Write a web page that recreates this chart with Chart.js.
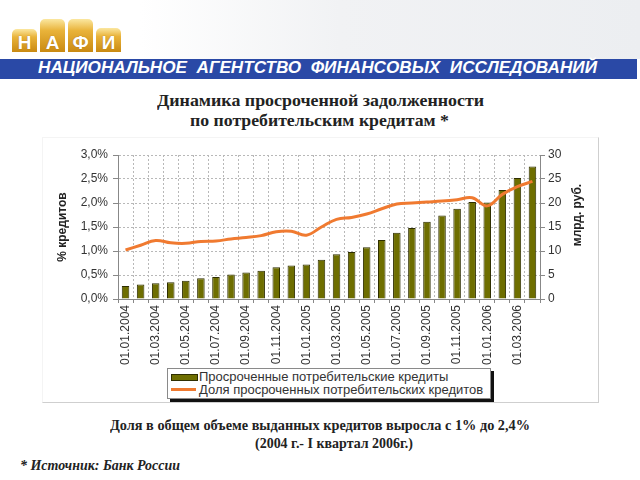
<!DOCTYPE html>
<html>
<head>
<meta charset="utf-8">
<script src="https://cdn.jsdelivr.net/npm/chart.js@4"></script>
<style>
  body { margin: 0; width: 640px; height: 480px; overflow: hidden; background: #fff; position: relative; font-family: "Liberation Sans", Arial, sans-serif; }
  .abs { position: absolute; }
  #texture { left: 140px; top: 0; width: 500px; height: 59px; background: linear-gradient(90deg, #ffffff 0%, #f1f2f4 40%, #eceef1 100%); }
  .logo { width: 25px; background: linear-gradient(180deg, #fbe7a0 0%, #e9b33a 35%, #c98a12 100%); border-radius: 5px 5px 0 0; color: #fff; font-family: "Liberation Sans", Arial; font-weight: bold; font-size: 19px; text-align: center; line-height: 16px; box-sizing: border-box; text-shadow: 0 0 1px #a06a00; }
  #banner { left: 0; top: 59px; width: 637px; height: 20px; background: #2a49a6; }
  .fit { white-space: nowrap; transform-origin: 0 50%; }
  #bannerText { left: 38px; top: 59px; height: 20px; line-height: 20px; color: #fff; font: italic bold 16px "Liberation Sans", Arial; }
  .serif { font-family: "Liberation Serif", "Times New Roman", serif; font-weight: bold; color: #222; }
  #frame { left: 42px; top: 137px; width: 555px; height: 264px; border: 1px solid #cfcfcf; border-top-color: #f4f4f4; border-left-color: #f4f4f4; }
  #wrap { left: 42px; top: 137px; width: 556px; height: 228px; }
  #legend { left: 167px; top: 368px; width: 322px; height: 29px; border: 1px solid #8a8a8a; background: #fff; box-shadow: 3px 3px 0 #111; font: 13px "Liberation Sans", Arial; color: #333; }
  .sw { position: absolute; left: 3px; width: 25px; }
  .lt { position: absolute; left: 31px; white-space: nowrap; line-height: 14px; }
</style>
</head>
<body>
<div id="texture" class="abs"></div>
<div class="abs logo" style="left:12px;top:29px;height:23px;padding-top:6px">Н</div>
<div class="abs logo" style="left:40px;top:19px;height:33px;padding-top:16px">А</div>
<div class="abs logo" style="left:68px;top:19px;height:33px;padding-top:16px">Ф</div>
<div class="abs logo" style="left:96px;top:28px;height:24px;padding-top:7px">И</div>
<div id="banner" class="abs"></div>
<div id="bannerText" class="abs fit" data-w="559">НАЦИОНАЛЬНОЕ&nbsp; АГЕНТСТВО&nbsp; ФИНАНСОВЫХ&nbsp; ИССЛЕДОВАНИЙ</div>

<div class="abs fit serif" data-w="327" style="left:157px;top:91px;font-size:17px;line-height:20px">Динамика просроченной задолженности</div>
<div class="abs fit serif" data-w="259" style="left:190px;top:111px;font-size:17px;line-height:20px">по потребительским кредитам *</div>

<div id="frame" class="abs"></div>
<div id="wrap" class="abs"><canvas id="chart"></canvas></div>

<div id="legend" class="abs">
  <div class="sw" style="top:5px;height:5px;background:#6e6e00;border:1px solid #2e2e00"></div>
  <div class="lt" style="top:1px">Просроченные потребительские кредиты</div>
  <div class="sw" style="top:19px;height:3px;background:#f07a30"></div>
  <div class="lt" style="top:14px">Доля просроченных потребительских кредитов</div>
</div>

<div class="abs fit serif" data-w="420" style="left:110px;top:417px;font-size:14px;line-height:18px">Доля в общем объеме выданных кредитов выросла с 1% до 2,4%</div>
<div class="abs fit serif" data-w="158" style="left:255px;top:435px;font-size:14px;line-height:18px">(2004 г.- I квартал 2006г.)</div>
<div class="abs fit serif" data-w="160" style="left:20px;top:457px;font-size:14px;line-height:18px;font-style:italic">* Источник: Банк России</div>

<script>
// stretch fixed text to the widths
document.querySelectorAll(".fit").forEach((el) => {
  const w = el.getBoundingClientRect().width;
  el.style.transform = "scaleX(" + (Number(el.dataset.w) / w) + ")";
});

// Monthly dates, Jan 2004 - Apr 2006
const months = [
  "01.01.2004", "01.02.2004", "01.03.2004", "01.04.2004", "01.05.2004", "01.06.2004",
  "01.07.2004", "01.08.2004", "01.09.2004", "01.10.2004", "01.11.2004", "01.12.2004",
  "01.01.2005", "01.02.2005", "01.03.2005", "01.04.2005", "01.05.2005", "01.06.2005",
  "01.07.2005", "01.08.2005", "01.09.2005", "01.10.2005", "01.11.2005", "01.12.2005",
  "01.01.2006", "01.02.2006", "01.03.2006", "01.04.2006",
];

// overdue consumer loans, bn rub (right axis)
const overdue = [
  2.7, 3.0, 3.3, 3.5, 3.8, 4.3, 4.6, 5.1, 5.5, 5.9, 6.6, 7.0,
  7.2, 8.2, 9.3, 9.8, 10.8, 12.3, 13.8, 14.8, 16.1, 17.4, 18.8, 20.2,
  20.1, 22.7, 25.2, 27.6,
];

// share of overdue in consumer loans, % (left axis)
const share = [
  1.02, 1.12, 1.22, 1.17, 1.16, 1.20, 1.21, 1.25, 1.28, 1.32, 1.40, 1.41,
  1.33, 1.50, 1.66, 1.70, 1.77, 1.88, 1.98, 2.00, 2.02, 2.04, 2.07, 2.11,
  1.94, 2.18, 2.34, 2.45,
];

const leftTicks = { min: 0, max: 3, step: 0.5 };
const rightTicks = { min: 0, max: 30, step: 5 };

const tickFont = { family: "'Liberation Sans', Arial", size: 12 };

// right axis title reads bottom-to-top, so draw it here
const rightTitle = {
  id: "rightTitle",
  afterDraw(chart) {
    const { ctx, chartArea } = chart;
    ctx.save();
    ctx.translate(536, (chartArea.top + chartArea.bottom) / 2 - 12);
    ctx.rotate(-Math.PI / 2);
    ctx.font = "bold 12px 'Liberation Sans', Arial";
    ctx.fillStyle = "#222";
    ctx.textAlign = "center";
    ctx.textBaseline = "middle";
    ctx.fillText("млрд. руб.", 0, 0);
    ctx.restore();
  },
};

new Chart(document.getElementById("chart"), {
  type: "bar",
  data: {
    labels: months,
    datasets: [
      {
        type: "line",
        label: "Доля просроченных потребительских кредитов",
        data: share,
        yAxisID: "y",
        borderColor: "#f07a30",
        borderWidth: 3,
        pointRadius: 0,
        tension: 0.4,
        order: 0,
      },
      {
        label: "Просроченные потребительские кредиты",
        data: overdue,
        yAxisID: "y1",
        backgroundColor: "#6e6e00",
        borderColor: "#2e2e00",
        borderWidth: 1,
        categoryPercentage: 1,
        barPercentage: 0.5,
        order: 1,
      },
    ],
  },
  options: {
    responsive: true,
    maintainAspectRatio: false,
    animation: false,
    layout: { padding: { top: 18 } },
    plugins: { legend: { display: false }, tooltip: { enabled: false } },
    scales: {
      x: {
        afterFit: (s) => { s.height = 66; },
        grid: { color: "#b8b8b8", tickColor: "#888", tickLength: 4, tickBorderDash: [] },
        border: { color: "#888", dash: [2, 2] },
        ticks: {
          autoSkip: false, minRotation: 90, maxRotation: 90, padding: 2,
          color: "#333", font: tickFont,
          callback: (v, i) => (i % 2 === 0 ? months[i] : ""),
        },
      },
      y: {
        position: "left",
        min: leftTicks.min, max: leftTicks.max,
        afterFit: (s) => { s.width = 76; },
        grid: { color: "#b8b8b8", tickColor: "#888", tickLength: 5, tickBorderDash: [] },
        border: { color: "#888", dash: [2, 2] },
        ticks: {
          stepSize: leftTicks.step, padding: 5, color: "#333",
          font: { family: "'Liberation Sans', Arial", size: 12 },
          callback: (v) => v.toFixed(1).replace(".", ",") + "%",
        },
        title: {
          display: true, text: "% кредитов", color: "#222",
          font: { family: "'Liberation Sans', Arial", size: 12, weight: "bold" },
          padding: { top: 13, bottom: 0 },
        },
      },
      y1: {
        position: "right",
        min: rightTicks.min, max: rightTicks.max,
        afterFit: (s) => { s.width = 58; },
        grid: { drawOnChartArea: false, tickColor: "#888", tickLength: 5 },
        border: { color: "#888" },
        ticks: {
          stepSize: rightTicks.step, padding: 3, color: "#333",
          font: { family: "'Liberation Sans', Arial", size: 12 },
        },
      },
    },
  },
  plugins: [rightTitle],
});
</script>
</body>
</html>
